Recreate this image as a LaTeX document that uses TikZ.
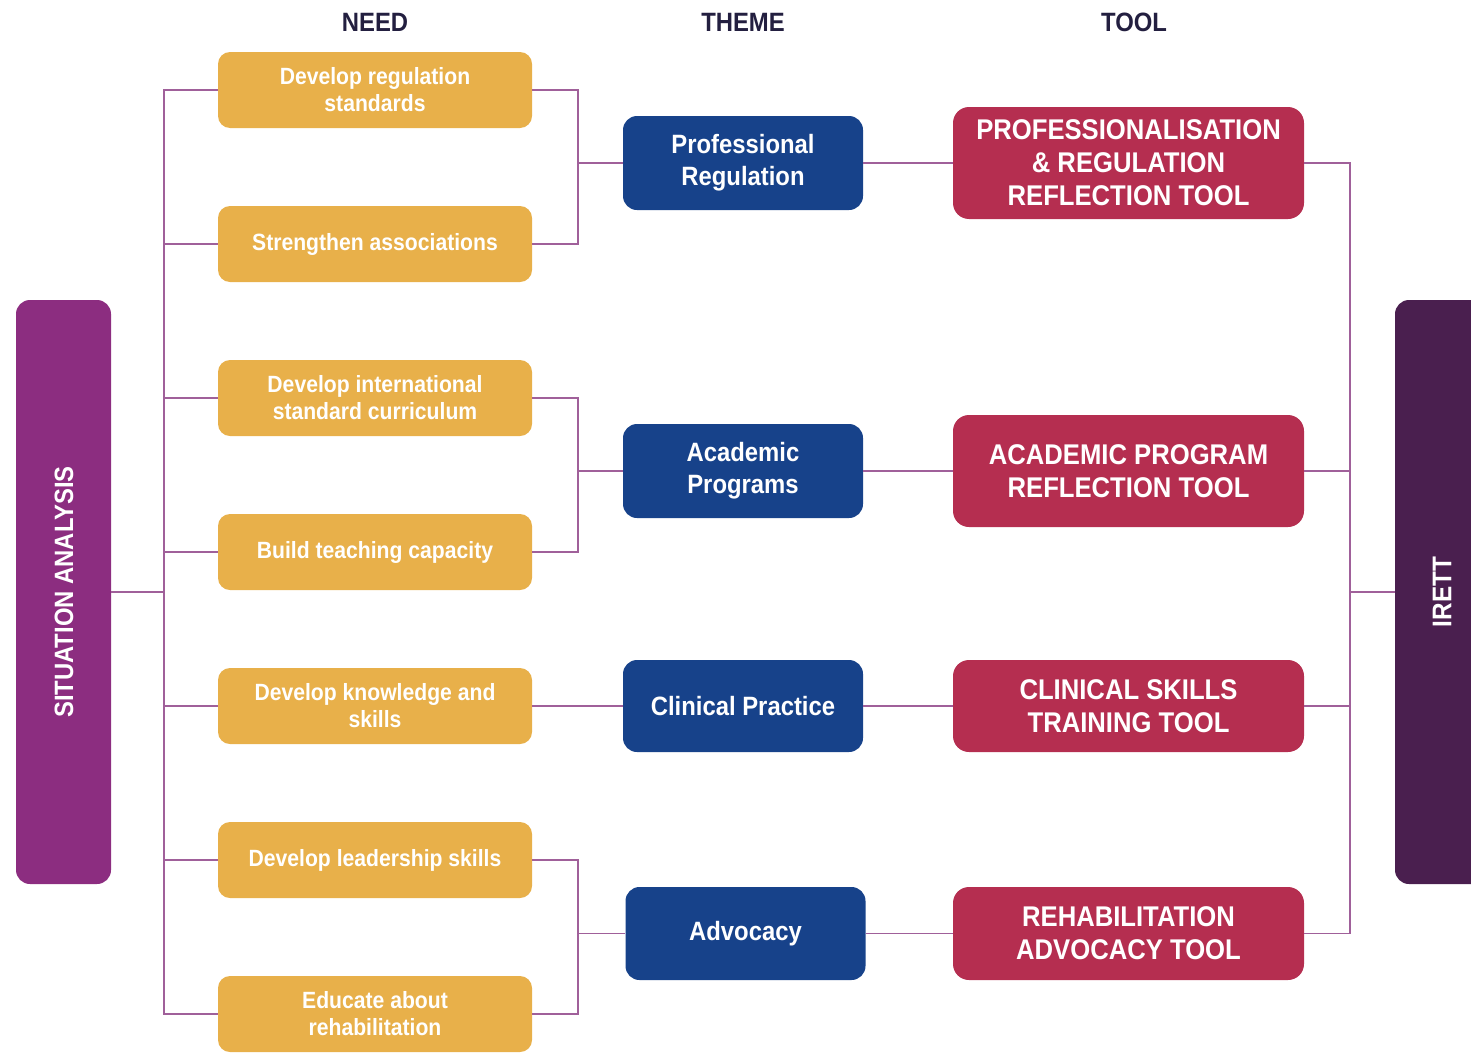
\documentclass[tikz,border=0pt]{standalone}
\usepackage{fontspec}
\setmainfont{Liberation Sans}[FakeStretch=0.9]
\begin{document}
\begin{tikzpicture}[x=1pt,y=-1pt,
  needbox/.style={fill=needc, rounded corners=12pt, minimum width=314pt, minimum height=76pt, text=white, align=center, inner sep=0pt, font=\fontsize{23.5}{27}\selectfont\bfseries},
  themebox/.style={fill=themec, rounded corners=14pt, minimum width=240pt, minimum height=94pt, text=white, align=center, inner sep=0pt, font=\fontsize{26.5}{32}\selectfont\bfseries},
  toolbox/.style={fill=toolc, rounded corners=16pt, minimum width=351pt, text=white, align=center, inner sep=0pt, font=\fontsize{28.5}{33}\selectfont\bfseries},
  sidebox/.style={rounded corners=14pt, minimum height=584pt, inner sep=0pt},
  header/.style={text=headc, font=\fontsize{26.5}{30}\selectfont\bfseries},
  link/.style={draw=linkc, line width=1.6pt}
]
\definecolor{needc}{HTML}{E8B04A}
\definecolor{themec}{HTML}{17428A}
\definecolor{toolc}{HTML}{B52E50}
\definecolor{sac}{HTML}{8C2D80}
\definecolor{irettc}{HTML}{4A1F4F}
\definecolor{linkc}{HTML}{A0609A}
\definecolor{headc}{HTML}{231F40}
\useasboundingbox (0,0) rectangle (1471,1052);
\clip (0,0) rectangle (1471,1052);

% headers
\node[header] (hneed) at (375,22) {NEED};
\node[header] (htheme) at (743,22) {THEME};
\node[header] (htool) at (1134,22) {TOOL};

% side boxes
\node[sidebox, fill=sac, minimum width=95pt] (sa) at (63.5,592) {};
\node[rotate=90, text=white, font=\fontsize{26.5}{30}\selectfont\bfseries] (satext) at (64,592) {SITUATION ANALYSIS};
\node[sidebox, fill=irettc, minimum width=92pt] (irett) at (1441,592) {};
\node[rotate=90, text=white, font=\fontsize{27}{30}\selectfont\bfseries] (irtext) at (1442,592) {IRETT};

% needs
\node[needbox] (n1) at (375,90) {Develop regulation\\standards};
\node[needbox] (n2) at (375,244) {Strengthen associations};
\node[needbox] (n3) at (375,398) {Develop international\\standard curriculum};
\node[needbox] (n4) at (375,552) {Build teaching capacity};
\node[needbox] (n5) at (375,706) {Develop knowledge and\\skills};
\node[needbox] (n6) at (375,860) {Develop leadership skills};
\node[needbox] (n7) at (375,1014) {Educate about\\rehabilitation};

% themes
\node[themebox] (t1) at (743,163) {Professional\\Regulation};
\node[themebox] (t2) at (743,471) {Academic\\Programs};
\node[themebox, minimum height=92pt] (t3) at (743,706) {Clinical Practice};
\node[themebox, minimum height=93pt] (t4) at (745.5,933.5) {Advocacy};

% tools
\node[toolbox, minimum height=112pt] (r1) at (1128.5,163) {PROFESSIONALISATION\\\& REGULATION\\REFLECTION TOOL};
\node[toolbox, minimum height=112pt] (r2) at (1128.5,471) {ACADEMIC PROGRAM\\REFLECTION TOOL};
\node[toolbox, minimum height=92pt] (r3) at (1128.5,706) {CLINICAL SKILLS\\TRAINING TOOL};
\node[toolbox, minimum height=93pt] (r4) at (1128.5,933.5) {REHABILITATION\\ADVOCACY TOOL};

% junction coordinates
\coordinate (lspine) at (164,592);
\coordinate (j1) at (578,163);
\coordinate (j2) at (578,471);
\coordinate (j4) at (578,933.5);
\coordinate (rspine) at (1350,592);

% left spine
\draw[link] (sa.east) -- (lspine);
\foreach \n in {n1,n2,n3,n4,n5,n6,n7} \draw[link] (\n.west) -| (lspine);

% need to theme
\draw[link] (n1.east) -| (j1) -- (t1.west);
\draw[link] (n2.east) -| (j1);
\draw[link] (n3.east) -| (j2) -- (t2.west);
\draw[link] (n4.east) -| (j2);
\draw[link] (n5.east) -- (t3.west);
\draw[link] (n6.east) -| (j4) -- (t4.west);
\draw[link] (n7.east) -| (j4);

% theme to tool
\draw[link] (t1.east) -- (r1.west);
\draw[link] (t2.east) -- (r2.west);
\draw[link] (t3.east) -- (r3.west);
\draw[link] (t4.east) -- (r4.west);

% right spine
\foreach \r in {r1,r2,r3,r4} \draw[link] (\r.east) -| (rspine);
\draw[link] (rspine) -- (irett.west);
\end{tikzpicture}
\end{document}
